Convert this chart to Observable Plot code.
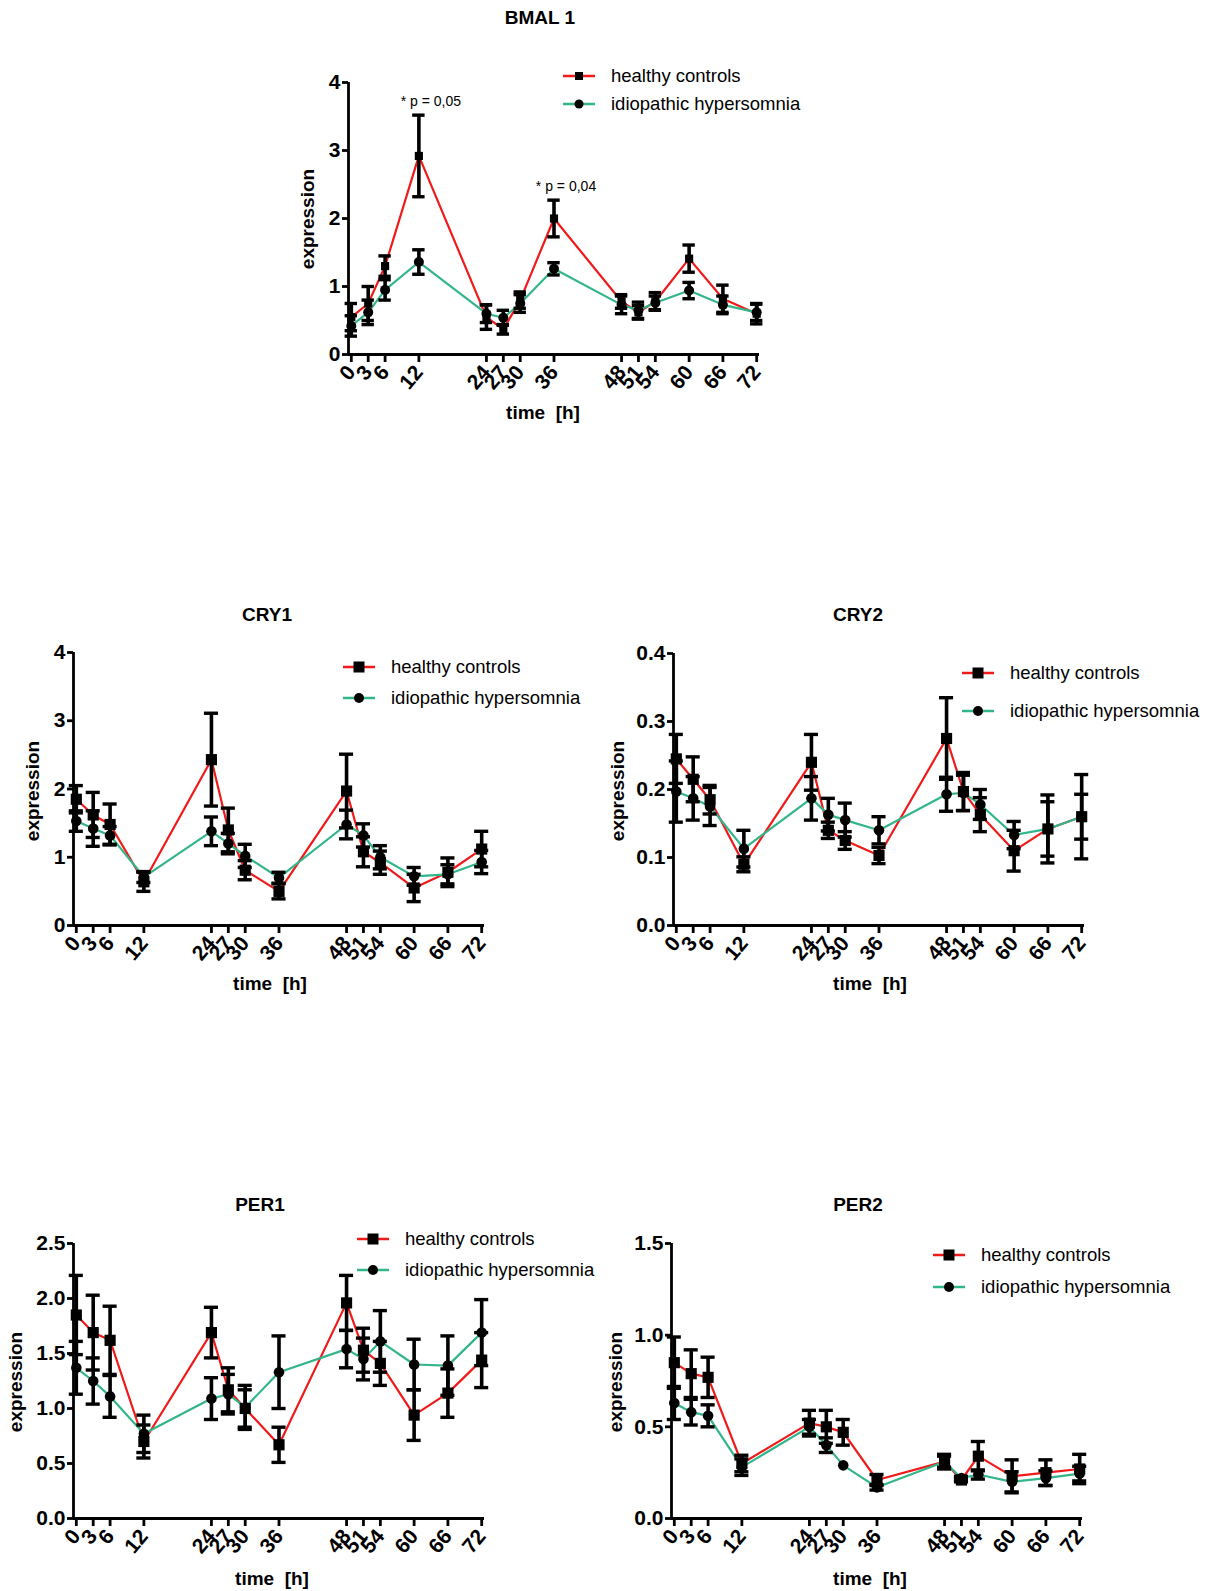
<!DOCTYPE html>
<html><head><meta charset="utf-8">
<script src="https://cdn.jsdelivr.net/npm/d3@7"></script>
<script src="https://cdn.jsdelivr.net/npm/@observablehq/plot@0.6"></script>
<style>
body{margin:0;background:#fff;width:1206px;height:1591px;position:relative;overflow:hidden;font-family:"Liberation Sans",Arial,sans-serif;color:#000;}
.abs{position:absolute;}
.title{font-weight:bold;font-size:19px;transform:translate(-50%,-50%);white-space:nowrap;}
.xlab{font-weight:bold;font-size:19px;transform:translate(-50%,-50%);white-space:pre;}
.ylab{font-weight:bold;font-size:19px;transform:translate(-50%,-50%) rotate(-90deg);white-space:nowrap;}
.leg{font-size:18.5px;white-space:nowrap;display:flex;align-items:center;transform:translateY(-50%);}
.leg svg{margin-right:16px;}
</style></head><body>
<script>
// ---------- data ----------
const times = [0, 3, 6, 12, 24, 27, 30, 36, 48, 51, 54, 60, 66, 72];
const seriesNames = ["healthy controls", "idiopathic hypersomnia"];

const bmal1Healthy    = [0.55, 0.75, 1.30, 2.92, 0.55, 0.37, 0.80, 2.00, 0.78, 0.62, 0.78, 1.41, 0.82, 0.60];
const bmal1HealthyErr = [0.20, 0.25, 0.15, 0.60, 0.18, 0.07, 0.12, 0.27, 0.10, 0.10, 0.13, 0.20, 0.20, 0.15];
const bmal1IH         = [0.42, 0.62, 0.95, 1.36, 0.60, 0.54, 0.75, 1.26, 0.73, 0.65, 0.76, 0.94, 0.73, 0.62];
const bmal1IHErr      = [0.15, 0.18, 0.15, 0.18, 0.13, 0.11, 0.13, 0.09, 0.13, 0.12, 0.10, 0.12, 0.13, 0.12];
const bmal1AnnotTimes  = [12, 36];
const bmal1AnnotLabels = ["* p = 0,05", "* p = 0,04"];

const cry1Healthy    = [1.85, 1.62, 1.48, 0.64, 2.43, 1.40, 0.81, 0.50, 1.97, 1.08, 0.92, 0.55, 0.78, 1.12];
const cry1HealthyErr = [0.20, 0.33, 0.30, 0.14, 0.68, 0.32, 0.14, 0.11, 0.54, 0.22, 0.17, 0.20, 0.21, 0.26];
const cry1IH         = [1.53, 1.42, 1.32, 0.71, 1.38, 1.20, 1.02, 0.70, 1.48, 1.32, 1.00, 0.72, 0.75, 0.93];
const cry1IHErr      = [0.15, 0.26, 0.13, 0.08, 0.21, 0.15, 0.17, 0.08, 0.21, 0.17, 0.17, 0.13, 0.14, 0.17];

const cry2Healthy    = [0.245, 0.215, 0.185, 0.090, 0.240, 0.140, 0.125, 0.103, 0.275, 0.197, 0.163, 0.110, 0.142, 0.160];
const cry2HealthyErr = [0.036, 0.033, 0.021, 0.011, 0.041, 0.012, 0.013, 0.012, 0.060, 0.028, 0.025, 0.030, 0.050, 0.062];
const cry2IH         = [0.197, 0.187, 0.175, 0.113, 0.187, 0.163, 0.155, 0.140, 0.193, 0.195, 0.178, 0.133, 0.142, 0.160];
const cry2IHErr      = [0.045, 0.032, 0.028, 0.027, 0.032, 0.024, 0.025, 0.020, 0.025, 0.026, 0.022, 0.020, 0.040, 0.033];

const per1Healthy    = [1.85, 1.69, 1.62, 0.70, 1.69, 1.17, 1.00, 0.67, 1.96, 1.53, 1.41, 0.94, 1.14, 1.44];
const per1HealthyErr = [0.36, 0.34, 0.31, 0.15, 0.23, 0.20, 0.17, 0.16, 0.25, 0.20, 0.20, 0.23, 0.22, 0.25];
const per1IH         = [1.37, 1.25, 1.11, 0.77, 1.09, 1.13, 1.01, 1.33, 1.54, 1.45, 1.61, 1.40, 1.39, 1.69];
const per1IHErr      = [0.24, 0.21, 0.19, 0.17, 0.19, 0.18, 0.20, 0.33, 0.17, 0.19, 0.28, 0.23, 0.27, 0.30];

const per2Healthy    = [0.85, 0.79, 0.77, 0.30, 0.52, 0.50, 0.47, 0.21, 0.31, 0.21, 0.34, 0.23, 0.25, 0.27];
const per2HealthyErr = [0.14, 0.13, 0.11, 0.045, 0.07, 0.09, 0.07, 0.03, 0.04, 0.01, 0.08, 0.09, 0.07, 0.08];
const per2IH         = [0.63, 0.58, 0.56, 0.28, 0.50, 0.40, 0.29, 0.17, 0.31, 0.22, 0.24, 0.20, 0.22, 0.245];
const per2IHErr      = [0.09, 0.07, 0.06, 0.045, 0.04, 0.04, 0.0, 0.015, 0.03, 0.01, 0.025, 0.055, 0.04, 0.04];

const ticks0to4   = [0, 1, 2, 3, 4];
const ticks0to04  = [0, 0.1, 0.2, 0.3, 0.4];
const ticks0to25  = [0, 0.5, 1, 1.5, 2, 2.5];
const ticks0to15  = [0, 0.5, 1, 1.5];

// ---------- styling / layout ----------
const RED = "#f01a1a", GREEN = "#33b58a";
const FONT = '"Liberation Sans", Arial, sans-serif';
const xDomain = [-0.5, 72.5];
const ML = 70, MR = 20, MT = 30, MB = 60, PW = 411;

const panels = [
  {title: "BMAL 1", h: bmal1Healthy, he: bmal1HealthyErr, i: bmal1IH, ie: bmal1IHErr,
   yTicks: ticks0to4, fmt: "d", axX: 348, top: 82, bottom: 354, sq: 4.6, ci: 5, cap: 1.1,
   titlePos: [540, 18], ylabPos: [308, 219], xlabPos: [543, 413],
   leg: {line: 563, text: 611, rows: [76, 104], sq: 8, ci: 9},
   annot: {t: bmal1AnnotTimes, labels: bmal1AnnotLabels}},
  {title: "CRY1", h: cry1Healthy, he: cry1HealthyErr, i: cry1IH, ie: cry1IHErr,
   yTicks: ticks0to4, fmt: "d", axX: 73, top: 652, bottom: 925, sq: 6.3, ci: 5.3, cap: 1.25,
   titlePos: [267, 615], ylabPos: [33, 791], xlabPos: [270, 984],
   leg: {line: 343, text: 390, rows: [667, 698], sq: 11, ci: 10}},
  {title: "CRY2", h: cry2Healthy, he: cry2HealthyErr, i: cry2IH, ie: cry2IHErr,
   yTicks: ticks0to04, fmt: ".1f", axX: 673, top: 653, bottom: 925, sq: 6.3, ci: 5.3, cap: 1.25,
   titlePos: [858, 615], ylabPos: [618, 791], xlabPos: [870, 984],
   leg: {line: 962, text: 1009, rows: [673, 711], sq: 11, ci: 10}},
  {title: "PER1", h: per1Healthy, he: per1HealthyErr, i: per1IH, ie: per1IHErr,
   yTicks: ticks0to25, fmt: ".1f", axX: 73, top: 1243, bottom: 1518, sq: 6.3, ci: 5.3, cap: 1.25,
   titlePos: [260, 1205], ylabPos: [16, 1382], xlabPos: [272, 1579],
   leg: {line: 357, text: 405, rows: [1239, 1270], sq: 11, ci: 10}},
  {title: "PER2", h: per2Healthy, he: per2HealthyErr, i: per2IH, ie: per2IHErr,
   yTicks: ticks0to15, fmt: ".1f", axX: 671, top: 1243, bottom: 1518, sq: 6.3, ci: 5.3, cap: 1.25,
   titlePos: [858, 1205], ylabPos: [616, 1382], xlabPos: [870, 1579],
   leg: {line: 933, text: 980, rows: [1255, 1287], sq: 11, ci: 10}}
];

function addDiv(cls, text, x, y) {
  const d = document.createElement("div");
  d.className = "abs " + cls;
  d.textContent = text;
  d.style.left = x + "px";
  d.style.top = y + "px";
  document.body.appendChild(d);
  return d;
}

function legendRow(color, symbol, size, label, x, y) {
  const d = document.createElement("div");
  d.className = "abs leg";
  d.style.left = x + "px";
  d.style.top = y + "px";
  const s = symbol === "square"
    ? `<rect x="${16 - size / 2}" y="${8 - size / 2}" width="${size}" height="${size}" fill="#000"/>`
    : `<circle cx="16" cy="8" r="${size / 2}" fill="#000"/>`;
  d.innerHTML = `<svg width="32" height="16"><line x1="0" x2="32" y1="8" y2="8" stroke="${color}" stroke-width="2.5"/>${s}</svg><span>${label}</span>`;
  document.body.appendChild(d);
}

for (const p of panels) {
  const healthyRows = times.map((t, k) => ({t, v: p.h[k], e: p.he[k]}));
  const ihRows = times.map((t, k) => ({t, v: p.i[k], e: p.ie[k]}));
  const errRows = healthyRows.concat(ihRows).filter(d => d.e > 0);
  const yDomain = [0, p.yTicks[p.yTicks.length - 1]];
  const H = MT + (p.bottom - p.top) + MB;
  const marks = [
    Plot.line(healthyRows, {x: "t", y: "v", stroke: RED, strokeWidth: 2.2}),
    Plot.line(ihRows, {x: "t", y: "v", stroke: GREEN, strokeWidth: 2.2}),
    Plot.ruleX(errRows, {x: "t", y1: d => d.v - d.e, y2: d => d.v + d.e, stroke: "#000", strokeWidth: 3.6}),
    Plot.ruleY(errRows, {y: d => d.v + d.e, x1: d => d.t - p.cap, x2: d => d.t + p.cap, stroke: "#000", strokeWidth: 3.4}),
    Plot.ruleY(errRows, {y: d => d.v - d.e, x1: d => d.t - p.cap, x2: d => d.t + p.cap, stroke: "#000", strokeWidth: 3.4}),
    Plot.dot(healthyRows, {x: "t", y: "v", symbol: "square", r: p.sq, fill: "#000", stroke: "none"}),
    Plot.dot(ihRows, {x: "t", y: "v", symbol: "circle", r: p.ci, fill: "#000", stroke: "none"}),
    Plot.ruleY([0], {stroke: "#000", strokeWidth: 2.8}),
    Plot.ruleX([xDomain[0]], {stroke: "#000", strokeWidth: 2.8}),
    Plot.axisX(times, {tickRotate: -50, tickSize: 8, tickPadding: 6, tickFormat: "d", fontSize: 21, fontWeight: "bold", strokeWidth: 2.8, label: null}),
    Plot.axisY(p.yTicks, {tickSize: 6, tickPadding: 2, tickFormat: p.fmt, fontSize: 21, fontWeight: "bold", strokeWidth: 2.8, label: null})
  ];
  if (p.annot) {
    const annRows = p.annot.t.map((t, k) => {
      const idx = times.indexOf(t);
      return {t, y: p.h[idx] + p.he[idx], label: p.annot.labels[k]};
    });
    marks.push(Plot.text(annRows, {x: "t", y: "y", text: "label", dx: 12, dy: -14, fontSize: 14, fill: "#000"}));
  }
  const chart = Plot.plot({
    width: ML + PW + MR, height: H,
    marginLeft: ML, marginRight: MR, marginTop: MT, marginBottom: MB,
    style: {fontFamily: FONT, background: "transparent", overflow: "visible", color: "#000"},
    x: {domain: xDomain, axis: null},
    y: {domain: yDomain, axis: null},
    marks
  });
  chart.style.position = "absolute";
  chart.style.left = (p.axX - ML) + "px";
  chart.style.top = (p.top - MT) + "px";
  document.body.appendChild(chart);

  addDiv("title", p.title, p.titlePos[0], p.titlePos[1]);
  addDiv("ylab", "expression", p.ylabPos[0], p.ylabPos[1]);
  addDiv("xlab", "time  [h]", p.xlabPos[0], p.xlabPos[1]);
  legendRow(RED, "square", p.leg.sq, seriesNames[0], p.leg.line, p.leg.rows[0]);
  legendRow(GREEN, "circle", p.leg.ci, seriesNames[1], p.leg.line, p.leg.rows[1]);
}
</script></body></html>
